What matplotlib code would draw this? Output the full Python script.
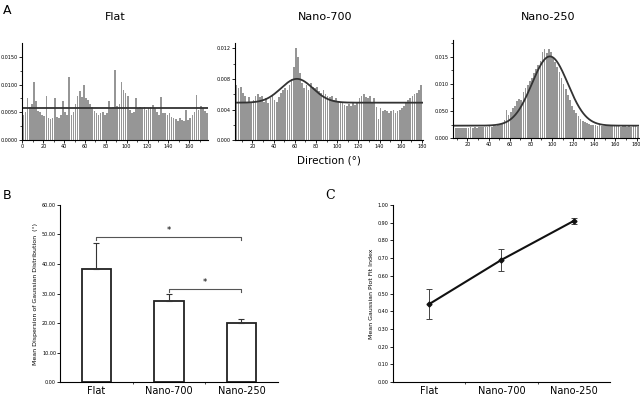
import numpy as np
import matplotlib.pyplot as plt

# ---- panel A: orientation histograms (2 deg bins) ----
flat_x = np.arange(1, 179, 2)
flat_y = [0.0045, 0.0050, 0.0076, 0.0060, 0.0065, 0.0104, 0.0070, 0.0052, 0.0050, 0.0046,
          0.0043, 0.0079, 0.0040, 0.0038, 0.0040, 0.0075, 0.0042, 0.0040, 0.0046, 0.0070,
          0.0050, 0.0045, 0.0114, 0.0045, 0.0050, 0.0065, 0.0080, 0.0088, 0.0078, 0.0099,
          0.0076, 0.0072, 0.0065, 0.0060, 0.0052, 0.0048, 0.0046, 0.0048, 0.0050, 0.0045,
          0.0048, 0.0070, 0.0058, 0.0060, 0.0127, 0.0062, 0.0065, 0.0104, 0.0090, 0.0085,
          0.0080, 0.0055, 0.0048, 0.0050, 0.0075, 0.0058, 0.0060, 0.0058, 0.0060, 0.0055,
          0.0058, 0.0060, 0.0063, 0.0058, 0.0050, 0.0045, 0.0078, 0.0048, 0.0048, 0.0045,
          0.0048, 0.0042, 0.0040, 0.0038, 0.0035, 0.0040, 0.0036, 0.0035, 0.0055, 0.0036,
          0.0040, 0.0045, 0.0050, 0.0082, 0.0055, 0.0062, 0.0058, 0.0052, 0.0048]
flat_fit = 0.0057

n700_x = np.arange(5, 181, 2)
n700_y = [0.0072, 0.0068, 0.0070, 0.0062, 0.0058, 0.0050, 0.0056, 0.0048, 0.0052, 0.0058,
          0.0060, 0.0056, 0.0058, 0.0050, 0.0055, 0.0048, 0.0055, 0.0058, 0.0052, 0.0050,
          0.0056, 0.0062, 0.0066, 0.0068, 0.0066, 0.0072, 0.0080, 0.0095, 0.0120, 0.0108,
          0.0088, 0.0075, 0.0068, 0.0072, 0.0066, 0.0074, 0.0070, 0.0068, 0.0070, 0.0064,
          0.0062, 0.0066, 0.0060, 0.0058, 0.0056, 0.0058, 0.0053, 0.0055, 0.0050, 0.0048,
          0.0050, 0.0046, 0.0045, 0.0047, 0.0045, 0.0048, 0.0046, 0.0050, 0.0055, 0.0058,
          0.0060, 0.0057, 0.0055, 0.0058, 0.0048, 0.0055, 0.0044, 0.0028, 0.0042, 0.0038,
          0.0040, 0.0038, 0.0036, 0.0038, 0.0040, 0.0036, 0.0038, 0.0040, 0.0042, 0.0045,
          0.0048, 0.0052, 0.0055, 0.0058, 0.0060, 0.0062, 0.0066, 0.0072]
n700_fit = dict(base=0.0049, amp=0.0031, mu=62, sd=15)

n250_x = np.arange(7, 183, 2)
n250_y = [0.0018, 0.0019, 0.0018, 0.0019, 0.0018, 0.0019, 0.0019, 0.0018, 0.0020, 0.0019,
          0.0020, 0.0019, 0.0020, 0.0021, 0.0020, 0.0021, 0.0021, 0.0022, 0.0021, 0.0022,
          0.0023, 0.0024, 0.0025, 0.0028, 0.0033, 0.0052, 0.0042, 0.0048, 0.0055, 0.0060,
          0.0068, 0.0072, 0.0070, 0.0085, 0.0092, 0.0098, 0.0105, 0.0112, 0.0120, 0.0128,
          0.0135, 0.0142, 0.0160, 0.0165, 0.0158, 0.0165, 0.0160, 0.0150, 0.0140, 0.0132,
          0.0122, 0.0112, 0.0100, 0.0090, 0.0080, 0.0070, 0.0060, 0.0052, 0.0046, 0.0040,
          0.0035, 0.0032, 0.0030, 0.0028, 0.0026, 0.0025, 0.0024, 0.0024, 0.0023, 0.0024,
          0.0023, 0.0022, 0.0023, 0.0022, 0.0023, 0.0022, 0.0022, 0.0023, 0.0022, 0.0021,
          0.0022, 0.0022, 0.0021, 0.0022, 0.0021, 0.0022, 0.0022, 0.0021]
n250_fit = dict(base=0.0023, amp=0.0128, mu=98, sd=17)

# ---- panels B and C ----
groups = ['Flat', 'Nano-700', 'Nano-250']
dispersion = [38.2, 27.5, 20.0]
dispersion_err = [9.0, 2.2, 1.3]
fit_index = [0.44, 0.69, 0.91]
fit_index_err = [0.085, 0.06, 0.015]

fig = plt.figure(figsize=(6.4, 3.98), dpi=100)
bar_c = '#969696'
tick_fs = 3.5


def style(ax):
    ax.spines['top'].set_visible(False)
    ax.spines['right'].set_visible(False)
    ax.tick_params(labelsize=tick_fs, length=2, width=0.6, pad=1)
    ax.tick_params(which='minor', length=1.2, width=0.5)


def gauss(x, p):
    return p['base'] + p['amp'] * np.exp(-(x - p['mu']) ** 2 / (2 * p['sd'] ** 2))


# Flat
ax1 = fig.add_axes([0.035, 0.648, 0.29, 0.244])
ax1.bar(flat_x, flat_y, width=1.6, color=bar_c)
ax1.axhline(flat_fit, color='#333333', lw=1.3)
ax1.set_xlim(0, 178)
ax1.set_ylim(0, 0.0175)
ax1.set_xticks(range(0, 161, 20))
ax1.set_xticks(range(10, 178, 20), minor=True)
ax1.set_yticks([0, 0.005, 0.01, 0.015])
ax1.set_yticklabels(['0.0000', '0.0050', '0.0100', '0.0150'])
ax1.set_yticks([0.0025, 0.0075, 0.0125], minor=True)
style(ax1)

# Nano-700
ax2 = fig.add_axes([0.367, 0.6475, 0.294, 0.245])
ax2.bar(n700_x, n700_y, width=1.6, color=bar_c)
xs = np.linspace(3.5, 181, 400)
ax2.plot(xs, gauss(xs, n700_fit), color='#333333', lw=1.3)
ax2.set_xlim(3.5, 181)
ax2.set_ylim(0, 0.0127)
ax2.set_xticks(range(20, 181, 20))
ax2.set_xticks(range(10, 181, 20), minor=True)
ax2.set_yticks([0, 0.004, 0.008, 0.012])
ax2.set_yticklabels(['0.000', '0.004', '0.008', '0.012'])
ax2.set_yticks([0.002, 0.006, 0.010], minor=True)
ax2.set_xlabel('Direction (°)', fontsize=7.5, labelpad=4)
style(ax2)

# Nano-250
ax3 = fig.add_axes([0.708, 0.653, 0.29, 0.246])
ax3.bar(n250_x, n250_y, width=1.6, color=bar_c)
xs = np.linspace(6.5, 182, 400)
ax3.plot(xs, gauss(xs, n250_fit), color='#333333', lw=1.3)
ax3.set_xlim(6.5, 182)
ax3.set_ylim(0, 0.0181)
ax3.set_xticks(range(20, 181, 20))
ax3.set_xticks(range(10, 181, 20), minor=True)
ax3.set_yticks([0, 0.005, 0.01, 0.015])
ax3.set_yticklabels(['0.000', '0.050', '0.010', '0.015'])
ax3.set_yticks([0.0025, 0.0075, 0.0125, 0.0175], minor=True)
style(ax3)

# titles of the histograms
for xc, t in [(0.18, 'Flat'), (0.508, 'Nano-700'), (0.856, 'Nano-250')]:
    fig.text(xc, 0.957, t, fontsize=8, ha='center', va='center')

# B: bar chart
axb = fig.add_axes([0.094, 0.040, 0.34, 0.445])
pos = np.arange(len(groups))
axb.bar(pos, dispersion, width=0.41, color='white', edgecolor='#222222', lw=1.3)
axb.errorbar(pos, dispersion, yerr=[[0] * 3, dispersion_err], fmt='none',
             ecolor='#333333', elinewidth=0.8, capsize=2.5, capthick=0.8)
axb.set_xlim(-0.5, 2.5)
axb.set_ylim(0, 60)
axb.set_yticks(range(0, 61, 10))
axb.set_yticklabels(['%.2f' % v for v in range(0, 61, 10)])
axb.set_xticks(pos)
axb.set_xticklabels(groups, fontsize=7)
axb.set_xticks([0.5, 1.5], minor=True)
axb.set_ylabel('Mean Dispersion of Gaussian Distribution  (°)', fontsize=4.5, labelpad=3)
style(axb)
axb.tick_params(axis='x', which='major', length=0, labelsize=7, pad=3)
# significance brackets
for x0, x1, yb in [(0, 2, 49.2), (1, 2, 31.7)]:
    axb.plot([x0, x0, x1, x1], [yb - 1.2, yb, yb, yb - 1.2], color='#555555', lw=0.8)
    axb.text((x0 + x1) / 2, yb + 0.5, '*', ha='center', va='bottom', fontsize=6)

# C: line chart
axc = fig.add_axes([0.614, 0.040, 0.339, 0.445])
axc.errorbar(pos, fit_index, yerr=fit_index_err, color='#111111', lw=1.5,
             marker='D', ms=2.5, ecolor='#444444', elinewidth=0.7, capsize=2.5, capthick=0.7)
axc.set_xlim(-0.5, 2.5)
axc.set_ylim(0, 1.0)
axc.set_yticks(np.arange(0, 1.01, 0.1))
axc.set_yticklabels(['%.2f' % v for v in np.arange(0, 1.01, 0.1)])
axc.set_xticks(pos)
axc.set_xticklabels(groups, fontsize=7)
axc.set_xticks([0.5, 1.5], minor=True)
axc.set_ylabel('Mean Gaussian Plot Fit Index', fontsize=4.5, labelpad=3)
style(axc)
axc.tick_params(axis='x', which='major', length=0, labelsize=7, pad=3)

# panel letters
fig.text(0.005, 0.99, 'A', fontsize=9, va='top')
fig.text(0.005, 0.525, 'B', fontsize=9, va='top')
fig.text(0.508, 0.525, 'C', fontsize=9, va='top', family='serif')

fig.savefig('out.png', dpi=100)
